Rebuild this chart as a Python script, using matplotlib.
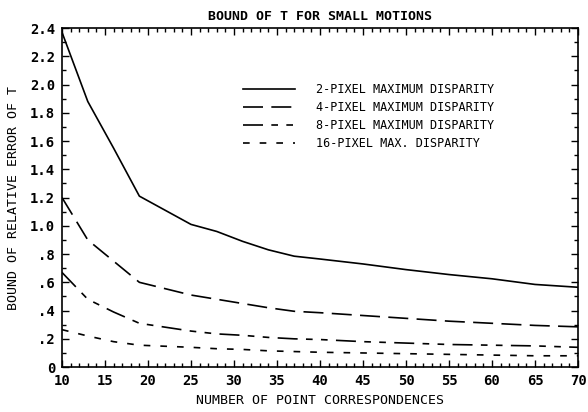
import numpy as np
import matplotlib
matplotlib.use('Agg')
import matplotlib.pyplot as plt
from matplotlib.ticker import MultipleLocator, FixedLocator

# number of point correspondences
n_points = [10, 13, 16, 19, 25, 28, 31, 34, 37, 40, 45, 50, 55, 60, 65, 70]

# bound of relative error of T, one series per disparity
disp_2 = [2.37, 1.88, 1.55, 1.21, 1.01, 0.96, 0.89, 0.83, 0.785, 0.765, 0.73, 0.69, 0.655, 0.625, 0.585, 0.565]
disp_4 = [1.20, 0.90, 0.75, 0.60, 0.51, 0.48, 0.45, 0.42, 0.395, 0.385, 0.365, 0.345, 0.325, 0.31, 0.295, 0.285]
disp_8 = [0.67, 0.48, 0.39, 0.31, 0.255, 0.235, 0.225, 0.21, 0.20, 0.195, 0.18, 0.17, 0.16, 0.155, 0.15, 0.14]
disp_16 = [0.265, 0.22, 0.18, 0.155, 0.14, 0.13, 0.125, 0.115, 0.11, 0.105, 0.10, 0.095, 0.09, 0.085, 0.08, 0.08]

labels = ['2-PIXEL MAXIMUM DISPARITY', '4-PIXEL MAXIMUM DISPARITY',
          '8-PIXEL MAXIMUM DISPARITY', '16-PIXEL MAX. DISPARITY']

x_ticks = [10, 15, 20, 25, 30, 35, 40, 45, 50, 55, 60, 65, 70]
y_ticks = [0, 0.2, 0.4, 0.6, 0.8, 1.0, 1.2, 1.4, 1.6, 1.8, 2.0, 2.2, 2.4]
y_ticklabels = ['0', '.2', '.4', '.6', '.8', '1.0', '1.2', '1.4', '1.6', '1.8', '2.0', '2.2', '2.4']

plt.rcParams['font.family'] = 'DejaVu Sans Mono'

fig = plt.figure(figsize=(5.88, 4.12), dpi=100)
ax = fig.add_axes([0.1054, 0.109, 0.8776, 0.823])

lw = 1.2
ax.plot(n_points, disp_2, color='black', lw=lw, label=labels[0])
ax.plot(n_points, disp_4, color='black', lw=lw, dashes=(12, 5), label=labels[1])
ax.plot(n_points, disp_8, color='black', lw=lw, dashes=(12, 5, 4, 5, 4, 5), label=labels[2])
ax.plot(n_points, disp_16, color='black', lw=lw, dashes=(4, 6), label=labels[3])

ax.set_xlim(10, 70)
ax.set_ylim(0, 2.4)
ax.xaxis.set_major_locator(FixedLocator(x_ticks))
ax.xaxis.set_minor_locator(MultipleLocator(1))
ax.yaxis.set_major_locator(FixedLocator(y_ticks))
ax.yaxis.set_minor_locator(MultipleLocator(0.1))
ax.set_yticklabels(y_ticklabels)

ax.tick_params(which='both', direction='in', top=True, right=True, width=1.0)
ax.tick_params(which='major', length=5, labelsize=10, pad=5)
ax.tick_params(which='minor', length=3)
for lab in ax.get_xticklabels() + ax.get_yticklabels():
    lab.set_fontweight('bold')
for sp in ax.spines.values():
    sp.set_linewidth(1.2)

ax.set_title('BOUND OF T FOR SMALL MOTIONS', fontsize=9.5, fontweight='bold', pad=6)
ax.set_xlabel('NUMBER OF POINT CORRESPONDENCES', fontsize=9.5)
ax.xaxis.set_label_coords(0.5, -0.078)
ax.set_ylabel('BOUND OF RELATIVE ERROR OF T', fontsize=9.5)
ax.yaxis.set_label_coords(-0.082, 0.5)

ax.legend(loc='upper left', bbox_to_anchor=(0.35, 0.838), frameon=False,
          fontsize=8.5, handlelength=4.4, handletextpad=1.8, labelspacing=0.43,
          borderpad=0, borderaxespad=0)

fig.savefig('out.png', dpi=100)
